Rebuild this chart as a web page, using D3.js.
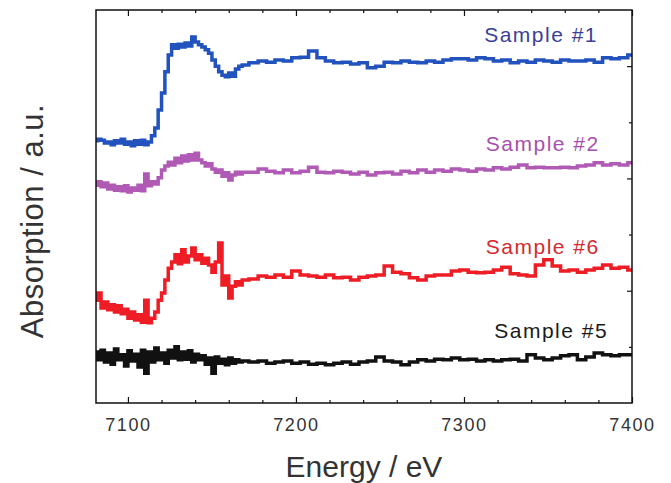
<!DOCTYPE html>
<html>
<head>
<meta charset="utf-8">
<script src="https://cdn.jsdelivr.net/npm/d3@7"></script>
<style>
  html, body { margin: 0; padding: 0; background: #fff; }
  svg { display: block; }
  text { font-family: Arial, "Liberation Sans", sans-serif; }
</style>
</head>
<body>
<svg id="chart" width="671" height="483"></svg>
<script>
// Energy grid: 2 eV steps through the edge region, 5 eV steps beyond it
const energyEdge = d3.range(7081, 7170, 2);
const energyTail = d3.range(7175, 7401, 5);
const energy = energyEdge.concat(energyTail);

// Absorption (a.u., curves stacked with vertical offsets)
const sample1 = [
  4.67, 4.70, 4.68, 4.63, 4.65, 4.60, 4.67, 4.63, 4.70, 4.61,
  4.65, 4.58, 4.67, 4.61, 4.68, 4.60, 4.65, 4.76, 4.90, 5.22,
  5.52, 5.90, 6.20, 6.38, 6.32, 6.39, 6.34, 6.41, 6.36, 6.52,
  6.43, 6.38, 6.34, 6.29, 6.23, 6.11, 6.00, 5.90, 5.84, 5.81,
  5.88, 5.82, 5.95, 6.00, 6.02,
  6.06, 6.09, 6.07, 6.11, 6.09, 6.15, 6.16, 6.27, 6.15, 6.09,
  6.06, 6.07, 6.04, 6.06, 5.97, 6.00, 6.07, 6.06, 6.09, 6.07,
  6.06, 6.09, 6.07, 6.11, 6.13, 6.13, 6.11, 6.15, 6.13, 6.09,
  6.11, 6.06, 6.09, 6.07, 6.11, 6.09, 6.07, 6.11, 6.09, 6.09,
  6.11, 6.07, 6.15, 6.13, 6.15, 6.20
];
const sample2 = [
  3.88, 3.94, 3.85, 3.92, 3.81, 3.88, 3.79, 3.85, 3.78, 3.87,
  3.76, 3.83, 3.79, 3.88, 3.78, 4.08, 3.87, 3.94, 3.90, 4.01,
  4.15, 4.22, 4.29, 4.24, 4.36, 4.28, 4.40, 4.31, 4.42, 4.33,
  4.45, 4.33, 4.28, 4.22, 4.26, 4.17, 4.11, 4.15, 4.04, 4.10,
  3.97, 4.06, 4.11, 4.08, 4.11,
  4.11, 4.17, 4.13, 4.10, 4.15, 4.10, 4.13, 4.20, 4.11, 4.10,
  4.13, 4.11, 4.08, 4.11, 4.06, 4.10, 4.11, 4.08, 4.13, 4.10,
  4.15, 4.11, 4.15, 4.13, 4.17, 4.15, 4.13, 4.17, 4.15, 4.19,
  4.17, 4.20, 4.24, 4.19, 4.20, 4.19, 4.19, 4.20, 4.19, 4.22,
  4.24, 4.28, 4.24, 4.26, 4.24, 4.28
];
const sample6 = [
  1.83, 1.96, 1.69, 1.80, 1.66, 1.75, 1.62, 1.73, 1.59, 1.67,
  1.51, 1.62, 1.48, 1.57, 1.44, 1.83, 1.43, 1.51, 1.62, 1.83,
  1.96, 2.19, 2.40, 2.51, 2.64, 2.48, 2.73, 2.51, 2.62, 2.76,
  2.55, 2.64, 2.49, 2.58, 2.46, 2.33, 2.51, 2.85, 2.10, 2.26,
  1.87, 2.08, 2.16, 2.10, 2.19,
  2.21, 2.26, 2.24, 2.28, 2.24, 2.35, 2.28, 2.26, 2.24, 2.28,
  2.23, 2.24, 2.19, 2.24, 2.26, 2.28, 2.44, 2.33, 2.30, 2.23,
  2.19, 2.26, 2.28, 2.28, 2.35, 2.37, 2.33, 2.32, 2.33, 2.37,
  2.42, 2.30, 2.28, 2.26, 2.46, 2.55, 2.44, 2.35, 2.37, 2.33,
  2.37, 2.40, 2.46, 2.40, 2.42, 2.37
];
const sample5 = [
  0.91, 0.77, 0.94, 0.73, 0.89, 0.69, 0.96, 0.77, 0.86, 0.66,
  0.93, 0.75, 0.87, 0.64, 0.94, 0.53, 0.91, 0.73, 0.98, 0.77,
  0.89, 0.71, 0.94, 0.80, 1.00, 0.77, 0.91, 0.78, 0.93, 0.73,
  0.87, 0.77, 0.84, 0.69, 0.80, 0.53, 0.82, 0.71, 0.78, 0.68,
  0.80, 0.71, 0.77, 0.73, 0.75,
  0.73, 0.75, 0.71, 0.73, 0.75, 0.71, 0.73, 0.69, 0.71, 0.68,
  0.71, 0.73, 0.69, 0.73, 0.75, 0.82, 0.75, 0.73, 0.68, 0.73,
  0.77, 0.75, 0.78, 0.77, 0.80, 0.77, 0.78, 0.75, 0.77, 0.75,
  0.77, 0.78, 0.75, 0.86, 0.80, 0.77, 0.80, 0.84, 0.86, 0.77,
  0.82, 0.89, 0.86, 0.84, 0.86, 0.86
];

const seriesNames = ["Sample #1", "Sample #2", "Sample #6", "Sample #5"];
const seriesValues = [sample1, sample2, sample6, sample5];
const lineColors = ["#2152bd", "#b05ab6", "#ee1d25", "#111111"];
const labelColors = ["#3a409a", "#a84fae", "#d42a2e", "#1a1a1a"];
// label anchor in data units: [energy, absorption]
const labelAt = [[7312, 6.43], [7313, 4.48], [7313, 2.65], [7318, 1.16]];

const majorTicksX = [7100, 7200, 7300, 7400];
const minorTicksX = d3.range(7100, 7401, 20).filter(v => v % 100 !== 0);
const majorTicksY = [2, 4, 6];
const minorTicksY = [1, 3, 5];

const svg = d3.select("#chart");
const plot = { left: 96, right: 632, top: 10, bottom: 403 };

const x = d3.scaleLinear().domain([7081, 7400]).range([plot.left, plot.right]);
const y = d3.scaleLinear().domain([0, 7]).range([plot.bottom, plot.top]);

svg.append("defs").append("clipPath").attr("id", "plotClip")
  .append("rect")
  .attr("x", plot.left).attr("y", plot.top)
  .attr("width", plot.right - plot.left).attr("height", plot.bottom - plot.top);

const line = d3.line()
  .x((d, i) => x(energy[i]))
  .y(d => y(d))
  .curve(d3.curveStep);

const curves = svg.append("g").attr("clip-path", "url(#plotClip)");
seriesValues.forEach((vals, k) => {
  curves.append("path")
    .datum(vals)
    .attr("d", line)
    .attr("fill", "none")
    .attr("stroke", lineColors[k])
    .attr("stroke-width", 3.5)
    .attr("stroke-linejoin", "miter");
});

// Axes: ticks point inward on all framed sides
function styleAxis(g) {
  g.select(".domain").remove();
  g.selectAll(".tick line").attr("stroke", "#111").attr("stroke-width", 1.2);
}

const bottomMajor = svg.append("g")
  .attr("transform", `translate(0,${plot.bottom})`)
  .call(d3.axisBottom(x).tickValues(majorTicksX).tickSizeInner(-6).tickSizeOuter(0)
    .tickPadding(20).tickFormat(d3.format("d")));
styleAxis(bottomMajor);
bottomMajor.selectAll(".tick text")
  .attr("font-size", 18).attr("fill", "#333").attr("letter-spacing", "1.6px")
  .attr("font-family", "Arial, 'Liberation Sans', sans-serif")
  .attr("dy", "0.45em");

const bottomMinor = svg.append("g")
  .attr("transform", `translate(0,${plot.bottom})`)
  .call(d3.axisBottom(x).tickValues(minorTicksX).tickSizeInner(-3).tickSizeOuter(0).tickFormat(""));
styleAxis(bottomMinor);

const topMajor = svg.append("g")
  .attr("transform", `translate(0,${plot.top})`)
  .call(d3.axisTop(x).tickValues(majorTicksX).tickSizeInner(-6).tickSizeOuter(0).tickFormat(""));
styleAxis(topMajor);
const topMinor = svg.append("g")
  .attr("transform", `translate(0,${plot.top})`)
  .call(d3.axisTop(x).tickValues(minorTicksX).tickSizeInner(-3).tickSizeOuter(0).tickFormat(""));
styleAxis(topMinor);

const rightMajor = svg.append("g")
  .attr("transform", `translate(${plot.right},0)`)
  .call(d3.axisRight(y).tickValues(majorTicksY).tickSizeInner(-5).tickSizeOuter(0).tickFormat(""));
styleAxis(rightMajor);
const rightMinor = svg.append("g")
  .attr("transform", `translate(${plot.right},0)`)
  .call(d3.axisRight(y).tickValues(minorTicksY).tickSizeInner(-3).tickSizeOuter(0).tickFormat(""));
styleAxis(rightMinor);

// Frame
svg.append("rect")
  .attr("x", plot.left).attr("y", plot.top)
  .attr("width", plot.right - plot.left).attr("height", plot.bottom - plot.top)
  .attr("fill", "none").attr("stroke", "#111").attr("stroke-width", 1.5);

// Series labels
seriesNames.forEach((name, k) => {
  svg.append("text")
    .attr("x", x(labelAt[k][0]))
    .attr("y", y(labelAt[k][1]))
    .attr("font-size", 21)
    .attr("letter-spacing", "1.5px")
    .attr("fill", labelColors[k])
    .text(name);
});

// Axis titles
svg.append("text")
  .attr("x", (plot.left + plot.right) / 2)
  .attr("y", 477)
  .attr("text-anchor", "middle")
  .attr("font-size", 30)
  .attr("fill", "#333")
  .text("Energy / eV");

svg.append("text")
  .attr("transform", "translate(43,221) rotate(-90)")
  .attr("text-anchor", "middle")
  .attr("font-size", 31)
  .attr("letter-spacing", "0.5px")
  .attr("fill", "#333")
  .text("Absorption / a.u.");
</script>
</body>
</html>
